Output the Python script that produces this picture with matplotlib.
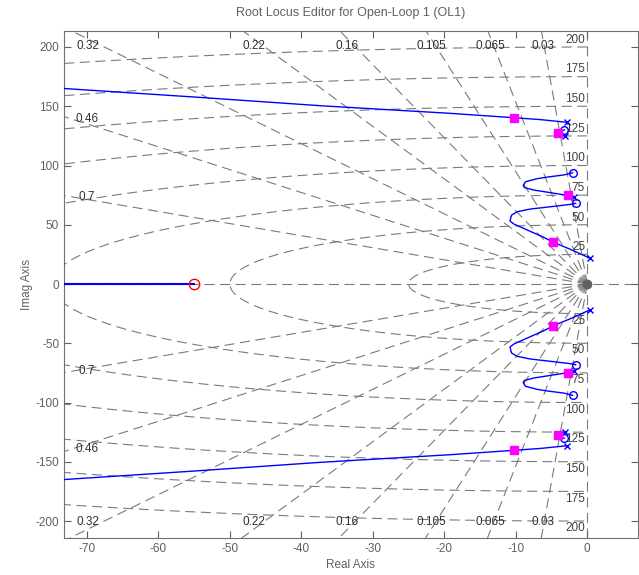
import numpy as np
import matplotlib.pyplot as plt

plt.rcParams['font.family'] = ['Liberation Sans', 'DejaVu Sans']
plt.rcParams['axes.unicode_minus'] = False

# grid values
zetas = [0.03, 0.065, 0.105, 0.16, 0.22, 0.32, 0.46, 0.7]
zeta_top = ['0.03', '0.065', '0.105', '0.16', '0.22', '0.32']
zeta_left = ['0.46', '0.7']
wns = [25, 50, 75, 100, 125, 150, 175, 200]

# root locus branches (upper half, mirrored below)
brA_re = [-2.9, -6.5, -10.2, -19.1, -37.2, -55.0, -73.5]
brA_im = [136.5, 138.7, 140.3, 144.0, 150.4, 157.8, 165.1]
brB_re = [-3.06, -3.7, -4.08, -3.9, -3.2]
brB_im = [124.9, 125.8, 127.2, 128.8, 130.0]
brC_re = [-1.91, -2.74, -5.15, -7.47, -8.77, -8.96, -8.64, -7.01, -5.15, -3.30, -2.05]
brC_im = [73.7, 74.8, 77.1, 79.3, 81.3, 83.0, 86.3, 88.9, 90.6, 92.0, 93.9]
brD_re = [-1.63, -2.37, -5.15, -7.94, -9.80, -10.58, -10.82, -10.26, -8.40, -6.08, -4.74, -2.37, 0.42]
brD_im = [68.1, 67.2, 65.2, 63.3, 61.0, 58.2, 53.2, 50.6, 45.6, 39.4, 35.2, 29.3, 21.7]
real_br = [-73.5, -55.0]

poles_re = [-2.9, -3.06, -1.91, 0.42]
poles_im = [136.5, 124.9, 73.7, 21.7]
zeros_re = [-3.2, -2.05, -1.63]
zeros_im = [130.0, 93.9, 68.1]
comp_zero = -55.0
cl_re = [-10.2, -4.08, -2.74, -4.74]
cl_im = [140.3, 127.2, 74.8, 35.2]

fig = plt.figure(figsize=(6.39, 5.75), dpi=100)
ax = fig.add_axes([64/639, 37/575, 574/639, 507/575])

gcol = '#7a7a7a'
dash = dict(color=gcol, lw=0.8, dashes=(9, 5), zorder=1)

# damping lines
for z in zetas:
    r = 400
    wd = np.sqrt(1 - z**2)
    for s in (1, -1):
        ax.plot([0, -r*z], [0, s*r*wd], **dash)
# natural frequency semicircles
th = np.linspace(np.pi/2, 3*np.pi/2, 400)
for w in wns:
    ax.plot(w*np.cos(th), w*np.sin(th), **dash)
    ax.text(-0.3, w + 1, str(w), ha='right', va='bottom', fontsize=8.5, color='#404040')
    ax.text(-0.3, -w - 1, str(w), ha='right', va='top', fontsize=8.5, color='#404040')
ax.axhline(0, **dash)
ax.axvline(0, **dash)

for z, lab in zip(zetas[:6], zeta_top):
    xx = -207*z/np.sqrt(1 - z**2)
    ax.text(xx, 201, lab, ha='center', va='center', fontsize=8.5, color='#303030')
    ax.text(xx, -201, lab, ha='center', va='center', fontsize=8.5, color='#303030')
for z, lab in zip(zetas[6:], zeta_left):
    yy = 72*np.sqrt(1 - z**2)/z
    ax.text(-70, yy, lab, ha='center', va='center', fontsize=8.5, color='#303030')
    ax.text(-70, -yy, lab, ha='center', va='center', fontsize=8.5, color='#303030')

# locus
blue = '#0000ff'
for re, im in [(brA_re, brA_im), (brB_re, brB_im), (brC_re, brC_im), (brD_re, brD_im)]:
    ax.plot(re, im, color=blue, lw=1, zorder=3)
    ax.plot(re, -np.array(im), color=blue, lw=1, zorder=3)
ax.plot(real_br, [0, 0], color=blue, lw=1.5, zorder=3)

for s in (1, -1):
    ax.plot(poles_re, s*np.array(poles_im), 'x', color=blue, ms=4.5, mew=1, zorder=4)
    ax.plot(zeros_re, s*np.array(zeros_im), 'o', mfc='none', mec=blue, ms=5.5, mew=1, zorder=4)
    ax.plot(cl_re, s*np.array(cl_im), 's', color='#ff00ff', ms=6, zorder=5)
ax.plot(comp_zero, 0, 'o', mfc='none', mec='red', ms=7.5, mew=1, zorder=4)
ax.plot(0, 0, 'o', color='#606060', ms=6, zorder=2)

ax.set_xlim(-73.2, 7.1)
ax.set_ylim(-214.3, 213.5)
ax.set_xticks(np.arange(-70, 1, 10))
ax.set_yticks(np.arange(-200, 201, 50))
ax.tick_params(direction='in', top=True, right=True, length=5, colors='#606060',
               labelsize=8.5, labelcolor='#606060')
for sp in ax.spines.values():
    sp.set_color('#707070')
ax.set_xlabel('Real Axis', fontsize=8.5, color='#606060', labelpad=3)
ax.set_ylabel('Imag Axis', fontsize=8.5, color='#606060', labelpad=2)
ax.set_title('Root Locus Editor for Open-Loop 1 (OL1)', fontsize=9, color='#606060', pad=11)

fig.savefig('out.png', dpi=100)
